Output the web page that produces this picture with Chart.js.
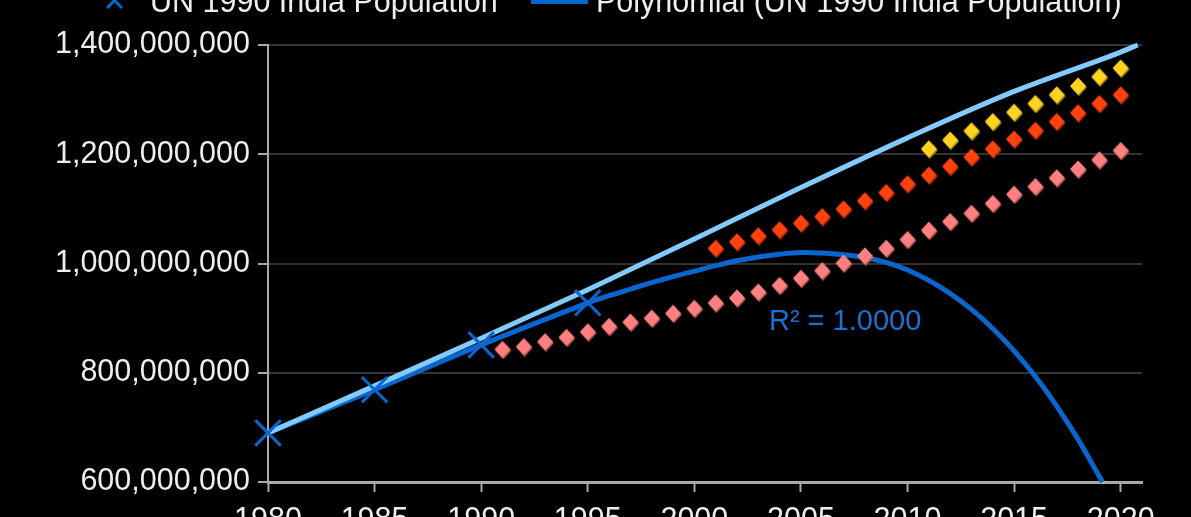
<!DOCTYPE html>
<html>
<head>
<meta charset="utf-8">
<script src="https://cdn.jsdelivr.net/npm/chart.js@4"></script>
<style>
  html, body { margin: 0; padding: 0; background: #000; overflow: hidden; }
  #wrap { position: absolute; left: 0; top: -40px; width: 1191px; height: 600px; }
</style>
</head>
<body>
<div id="wrap"><canvas id="chart"></canvas></div>
<script>
// values in millions
const unYears = [1980, 1985, 1990, 1995];
const unPop = [690, 769, 851, 928];

const trendYears = [1980, 1985, 1990, 1995, 1996, 1997, 1998, 1999, 2000, 2001, 2002, 2003, 2004, 2005, 2006, 2007,
                    2008, 2009, 2010, 2011, 2012, 2013, 2014, 2015, 2016, 2017, 2018, 2019, 2019.15];
const trendPop = [690, 769, 851, 928, 941, 953, 965, 976, 986, 996, 1005, 1012, 1017, 1020, 1019, 1016,
                  1011, 1002, 988, 969, 945, 916, 881, 840, 793, 739, 678, 610, 600];

const lightYears = [1980, 1985, 1990, 1995, 2000, 2005, 2010, 2015, 2020, 2020.8];
const lightPop = [690, 776, 863, 952, 1045, 1139, 1230, 1315, 1387, 1400];

const pinkYears = [1991, 1992, 1993, 1994, 1995, 1996, 1997, 1998, 1999, 2000, 2001, 2002, 2003, 2004, 2005,
                   2006, 2007, 2008, 2009, 2010, 2011, 2012, 2013, 2014, 2015, 2016, 2017, 2018, 2019, 2020];
const pinkPop = [843, 848, 857, 865, 875, 885, 893, 900, 909, 918, 928, 937, 948, 960, 973,
                 987, 1001, 1014, 1028, 1044, 1061, 1077, 1092, 1110, 1127, 1141, 1157, 1173, 1190, 1207];

const redYears = [2001, 2002, 2003, 2004, 2005, 2006, 2007, 2008, 2009, 2010,
                  2011, 2012, 2013, 2014, 2015, 2016, 2017, 2018, 2019, 2020];
const redPop = [1028, 1040, 1051, 1062, 1074, 1086, 1100, 1115, 1130, 1146,
                1162, 1178, 1195, 1210, 1228, 1244, 1260, 1276, 1293, 1309];

const yellowYears = [2011, 2012, 2013, 2014, 2015, 2016, 2017, 2018, 2019, 2020];
const yellowPop = [1210, 1226, 1243, 1260, 1277, 1293, 1309, 1325, 1342, 1358];

const xTicks = [1980, 1985, 1990, 1995, 2000, 2005, 2010, 2015, 2020];
const yTicks = [600, 800, 1000, 1200, 1400];

const legendLabels = ['UN 1990 India Population', 'Polynomial (UN 1990 India Population)'];
const r2Label = 'R² = 1.0000';

const DARK = '#0a66cf';
const LIGHT = '#83caff';
const FONT = '"Liberation Sans", Arial, sans-serif';
const FONT_SIZE = 30.5;

const pts = (xs, ys) => xs.map((x, i) => ({ x: x, y: ys[i] * 1e6 }));

// shaded diamond marker
function diamond(fill, shade) {
    const c = document.createElement('canvas');
    c.width = 20; c.height = 20;
    const g = c.getContext('2d');
    const d = (ox, oy, col) => {
        g.fillStyle = col;
        g.beginPath();
        g.moveTo(10 + ox, 1.5 + oy);
        g.lineTo(18 + ox, 10 + oy);
        g.lineTo(10 + ox, 18.5 + oy);
        g.lineTo(2 + ox, 10 + oy);
        g.closePath();
        g.fill();
    };
    d(0.8, 1.6, shade);
    d(0, 0, fill);
    return c;
}

const dots = (label, xs, ys, fill, shade) => ({
    label: label,
    data: pts(xs, ys),
    showLine: false,
    pointStyle: diamond(fill, shade),
    pointRadius: 8,
    clip: false
});

// legend + R² text
const overlay = {
    id: 'overlay',
    afterDraw(chart) {
        const ctx = chart.ctx;
        ctx.save();
        ctx.font = FONT_SIZE + 'px ' + FONT;
        ctx.fillStyle = '#eeeeee';
        ctx.textBaseline = 'alphabetic';
        ctx.textAlign = 'left';
        // X marker
        ctx.strokeStyle = DARK;
        ctx.lineWidth = 3;
        ctx.beginPath();
        ctx.moveTo(107, 33); ctx.lineTo(122, 48);
        ctx.moveTo(122, 33); ctx.lineTo(107, 48);
        ctx.stroke();
        ctx.fillText(legendLabels[0], 150, 52);
        // line sample
        ctx.lineWidth = 6;
        ctx.beginPath();
        ctx.moveTo(531, 41); ctx.lineTo(588, 41);
        ctx.stroke();
        ctx.fillText(legendLabels[1], 596, 52);

        const xs = chart.scales.x, ys = chart.scales.y;
        ctx.font = '29px ' + FONT;
        ctx.fillStyle = '#1c6fd4';
        ctx.textBaseline = 'middle';
        ctx.fillText(r2Label, xs.getPixelForValue(2003.5), ys.getPixelForValue(893e6));
        ctx.restore();
    }
};

new Chart(document.getElementById('chart'), {
    type: 'line',
    data: {
        datasets: [
            dots('Yellow', yellowYears, yellowPop, '#ffd320', '#a98a14'),
            dots('Red', redYears, redPop, '#ff420e', '#a82a08'),
            dots('Pink', pinkYears, pinkPop, '#ff8080', '#b05555'),
            {
                label: legendLabels[0],
                data: pts(unYears, unPop),
                showLine: false,
                pointStyle: 'crossRot',
                pointRadius: 18,
                pointBorderWidth: 3,
                borderColor: DARK,
                backgroundColor: DARK,
                clip: false
            },
            {
                label: 'UN estimate',
                data: pts(lightYears, lightPop),
                borderColor: LIGHT,
                borderWidth: 5,
                pointRadius: 0,
                cubicInterpolationMode: 'monotone',
                clip: false
            },
            {
                label: legendLabels[1],
                data: pts(trendYears, trendPop),
                borderColor: DARK,
                borderWidth: 5,
                pointRadius: 0,
                tension: 0.4,
                clip: false
            }
        ]
    },
    options: {
        responsive: true,
        maintainAspectRatio: false,
        animation: false,
        layout: { padding: { top: 85, right: 49, left: 0, bottom: 0 } },
        plugins: {
            legend: { display: false },
            tooltip: { enabled: false }
        },
        scales: {
            x: {
                type: 'linear',
                min: 1980,
                max: 2021,
                afterBuildTicks: s => { s.ticks = xTicks.map(v => ({ value: v })); },
                afterFit: s => { s.height = 78; },
                ticks: {
                    color: '#eeeeee',
                    padding: 10,
                    maxRotation: 0,
                    font: { family: FONT, size: FONT_SIZE },
                    callback: v => String(v)
                },
                grid: { drawOnChartArea: false, drawTicks: true, tickLength: 10, tickWidth: 2, tickColor: '#a8a8a8' },
                border: { color: '#a8a8a8', width: 3 }
            },
            y: {
                min: 600e6,
                max: 1400e6,
                afterBuildTicks: s => { s.ticks = yTicks.map(v => ({ value: v * 1e6 })); },
                afterFit: s => { s.width = 268; },
                ticks: {
                    color: '#eeeeee',
                    padding: 8,
                    font: { family: FONT, size: FONT_SIZE },
                    callback: v => v.toLocaleString('en-US')
                },
                grid: { color: '#333333', lineWidth: 2, tickLength: 10, tickColor: '#a8a8a8' },
                border: { color: '#a8a8a8', width: 2 }
            }
        }
    },
    plugins: [overlay]
});
</script>
</body>
</html>
